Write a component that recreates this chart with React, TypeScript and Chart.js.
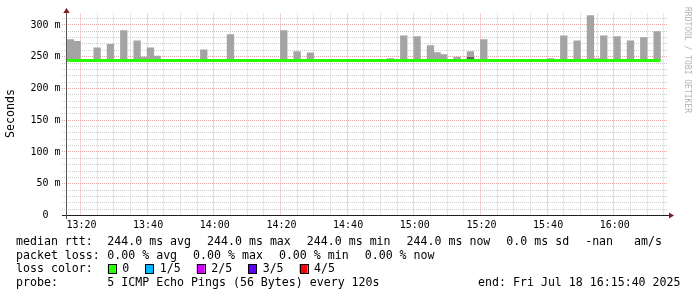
import React, { useEffect, useRef } from 'react';
import { Chart, registerables } from 'chart.js';

Chart.register(...registerables);

// ---- time range ----
const rangeStart = '13:15:40';
const rangeEnd = '16:15:40';
const stepMinutes = 2;

// ---- smoke (max ping per 2-min step, drawn from min ping) ----
const smokeMin = 244;
const smokeEnds = [
  '13:18', '13:20', '13:26', '13:30', '13:34', '13:38', '13:40', '13:42', '13:44', '13:58',
  '14:06', '14:22', '14:26', '14:30', '14:54', '14:58', '15:02', '15:06', '15:08', '15:10',
  '15:14', '15:18', '15:22', '15:42', '15:46', '15:50', '15:54', '15:56', '15:58', '16:02',
  '16:06', '16:10', '16:14',
];
const smokeMax = [
  277, 274, 264, 269.5, 291, 275, 249.5, 264, 251, 261,
  285, 291, 258, 256, 247, 283, 281.6, 267.4, 256.4, 253.3,
  249.4, 258, 277, 247, 283, 275, 314.6, 247, 283, 281.6,
  275, 280, 289.4,
];
const smokeDarkEnds = ['15:18'];
const smokeDarkMax = [248.5];

// ---- median rtt per step ----
const medianStart = '13:16';
const medianValues = [
  244, 244, 244, 244, 244, 244, 244, 244, 244, 244,
  244, 244, 244, 244, 244, 244, 244, 244, 244, 244,
  244, 244, 244, 244, 244, 244, 244, 244, 244, 244,
  244, 244, 244, 244, 244, 244, 244, 244, 244, 244,
  244, 244, 244, 244, 244, 244, 244, 244, 244, 244,
  244, 244, 244, 244, 244, 244, 244, 244, 244, 244,
  244, 244, 244, 244, 244, 244, 244, 244, 244, 244,
  244, 244, 244, 244, 244, 244, 244, 244, 244, 244,
  244, 244, 244, 244, 244, 244, 244, 244, 244, 244,
];

// ---- axes ----
const xTickLabels = ['13:20', '13:40', '14:00', '14:20', '14:40', '15:00', '15:20', '15:40', '16:00'];
const yTickValues = [0, 50, 100, 150, 200, 250, 300];
const yTickLabels = ['0  ', '50 m', '100 m', '150 m', '200 m', '250 m', '300 m'];
const yMax = 318;
const yAxisTitle = 'Seconds';
const watermark = 'RRDTOOL / TOBI OETIKER';

// ---- legend ----
const rttLegend = ['median rtt:', '244.0 ms avg', '244.0 ms max', '244.0 ms min', '244.0 ms now', '0.0 ms sd', '-nan   am/s'];
const lossLegend = ['packet loss:', '0.00 % avg', '0.00 % max', '0.00 % min', '0.00 % now'];
const lossColorTitle = 'loss color:';
const lossLabels = ['0', '1/5', '2/5', '3/5', '4/5'];
const lossColors = ['#26ff00', '#00b8ff', '#d200ff', '#5e00ff', '#ff0000'];
const probeLegend = ['probe:', '5 ICMP Echo Pings (56 Bytes) every 120s'];
const endLegend = 'end: Fri Jul 18 16:15:40 2025';

const toMin = (s: string) => {
  const [h, m, sec] = s.split(':').map(Number);
  return h * 60 + m + (sec || 0) / 60;
};

const MONO = '"DejaVu Sans Mono"';

const rrdPlugin = {
  id: 'rrdDecor',
  beforeDatasetsDraw(chart: any) {
    const { ctx, chartArea, scales } = chart;
    const xs = scales.x, ys = scales.y;
    const minor = '#cdcdcd';
    const major = '#eba3a3';
    ctx.save();
    ctx.lineWidth = 1;
    ctx.setLineDash([1, 1]);
    const hLine = (v: number, color: string) => {
      const py = Math.floor(ys.getPixelForValue(v)) + 0.5;
      ctx.strokeStyle = color;
      ctx.beginPath();
      ctx.moveTo(62, py);
      ctx.lineTo(668, py);
      ctx.stroke();
    };
    const vLine = (m: number, color: string) => {
      const px = Math.floor(xs.getPixelForValue(m)) + 0.5;
      ctx.strokeStyle = color;
      ctx.beginPath();
      ctx.moveTo(px, chartArea.top);
      ctx.lineTo(px, chartArea.bottom);
      ctx.stroke();
    };
    for (let v = 10; v < yMax; v += 10) if (v % 50) hLine(v, minor);
    const x0 = toMin(rangeStart), x1 = toMin(rangeEnd);
    for (let m = Math.ceil(x0 / 5) * 5; m <= x1; m += 5) if (m % 20) vLine(m, minor);
    yTickValues.forEach((v) => { if (v > 0) hLine(v, major); });
    xTickLabels.forEach((l) => vLine(toMin(l), major));
    ctx.restore();
  },
  afterDatasetsDraw(chart: any) {
    const { ctx, chartArea } = chart;
    ctx.save();
    ctx.setLineDash([]);
    ctx.lineWidth = 1;
    // x axis
    ctx.strokeStyle = '#1f1f1f';
    ctx.beginPath();
    ctx.moveTo(62, 215.5);
    ctx.lineTo(670, 215.5);
    ctx.stroke();
    // y axis
    ctx.strokeStyle = '#555555';
    ctx.beginPath();
    ctx.moveTo(66.5, 11);
    ctx.lineTo(66.5, 219);
    ctx.stroke();
    // arrows
    ctx.fillStyle = '#801f1f';
    ctx.beginPath();
    ctx.moveTo(66.5, 8);
    ctx.lineTo(69.7, 13);
    ctx.lineTo(63.3, 13);
    ctx.closePath();
    ctx.fill();
    ctx.beginPath();
    ctx.moveTo(674, 215.5);
    ctx.lineTo(669, 212.5);
    ctx.lineTo(669, 218.5);
    ctx.closePath();
    ctx.fill();
    ctx.restore();
  },
  afterDraw(chart: any) {
    const { ctx, scales } = chart;
    const xs = scales.x, ys = scales.y;
    ctx.save();
    ctx.fillStyle = '#000';
    // tick labels
    ctx.font = `10px ${MONO}`;
    ctx.textBaseline = 'middle';
    ctx.textAlign = 'right';
    yTickValues.forEach((v, i) => ctx.fillText(yTickLabels[i], 60.5, ys.getPixelForValue(v)));
    ctx.textAlign = 'center';
    xTickLabels.forEach((l) => ctx.fillText(l, xs.getPixelForValue(toMin(l)) + 1, 225.5));

    // axis title
    ctx.font = `11.6px ${MONO}`;
    ctx.save();
    ctx.translate(11, 113.5);
    ctx.rotate(-Math.PI / 2);
    ctx.textAlign = 'center';
    ctx.fillText(yAxisTitle, 0, 0);
    ctx.restore();

    // watermark
    ctx.save();
    ctx.font = `8px ${MONO}`;
    ctx.fillStyle = '#b4b4b4';
    ctx.translate(687.5, 60);
    ctx.rotate(Math.PI / 2);
    ctx.textAlign = 'center';
    ctx.fillText(watermark, 0, 0);
    ctx.restore();

    // legend
    ctx.font = `11.6px ${MONO}`;
    ctx.textAlign = 'left';
    ctx.textBaseline = 'middle';
    const gap = 16;
    const row = (items: string[], y: number) => {
      ctx.fillText(items[0], 16, y);
      let cx = 107.3;
      for (let i = 1; i < items.length; i++) {
        ctx.fillText(items[i], cx, y);
        cx += ctx.measureText(items[i]).width + gap;
      }
    };
    row(rttLegend, 241.5);
    row(lossLegend, 255.5);
    // loss colors
    ctx.fillText(lossColorTitle, 16, 269.3);
    let cx = 107.8;
    lossLabels.forEach((lab, i) => {
      ctx.fillStyle = lossColors[i];
      ctx.fillRect(cx, 264, 8, 9);
      ctx.strokeStyle = '#000';
      ctx.lineWidth = 1;
      ctx.strokeRect(Math.round(cx) + 0.5, 264.5, 8, 9);
      ctx.fillStyle = '#000';
      const lx = cx + 14.5;
      ctx.fillText(lab, lx, 269.3);
      cx = lx + ctx.measureText(lab).width + gap;
    });
    row(probeLegend, 283.3);
    ctx.textAlign = 'right';
    ctx.fillText(endLegend, 680.5, 283.3);
    ctx.restore();
  },
};

export default function App() {
  const ref = useRef<HTMLCanvasElement | null>(null);
  useEffect(() => {
    document.body.style.margin = '0';
    const canvas = ref.current;
    if (!canvas) return;
    const stepHalf = stepMinutes / 2;
    const chart = new Chart(canvas, {
      type: 'bar',
      data: {
        datasets: [
          {
            type: 'bar',
            label: 'smoke',
            data: smokeEnds.map((t, i) => ({ x: toMin(t) - stepHalf, y: [smokeMin, smokeMax[i]] })) as any,
            backgroundColor: '#a4a4a4',
            borderWidth: 0,
            grouped: false,
            barPercentage: 1,
            categoryPercentage: 1,
            order: 3,
          } as any,
          {
            type: 'bar',
            label: 'smoke dark',
            data: smokeDarkEnds.map((t, i) => ({ x: toMin(t) - stepHalf, y: [smokeMin, smokeDarkMax[i]] })) as any,
            backgroundColor: '#555555',
            borderWidth: 0,
            grouped: false,
            barPercentage: 1,
            categoryPercentage: 1,
            order: 2,
          } as any,
          {
            type: 'line',
            label: 'median',
            data: medianValues.map((v, i) => ({ x: toMin(medianStart) + i * stepMinutes, y: v })) as any,
            borderColor: '#26ff00',
            borderWidth: 3,
            pointRadius: 0,
            stepped: true,
            borderCapStyle: 'butt',
            order: 1,
          } as any,
        ],
      },
      options: {
        responsive: false,
        animation: false,
        events: [],
        layout: { padding: { left: 66, right: 31, top: 13.5, bottom: 81.5 } },
        scales: {
          x: { type: 'linear', min: toMin(rangeStart), max: toMin(rangeEnd), display: false, offset: false },
          y: { type: 'linear', min: 0, max: yMax, display: false },
        },
        plugins: { legend: { display: false }, tooltip: { enabled: false } },
      },
      plugins: [rrdPlugin],
    });
    return () => chart.destroy();
  }, []);
  return (
    <div style={{ width: 697, height: 297, background: '#fff' }}>
      <canvas ref={ref} width={697} height={297} style={{ display: 'block' }} />
    </div>
  );
}
